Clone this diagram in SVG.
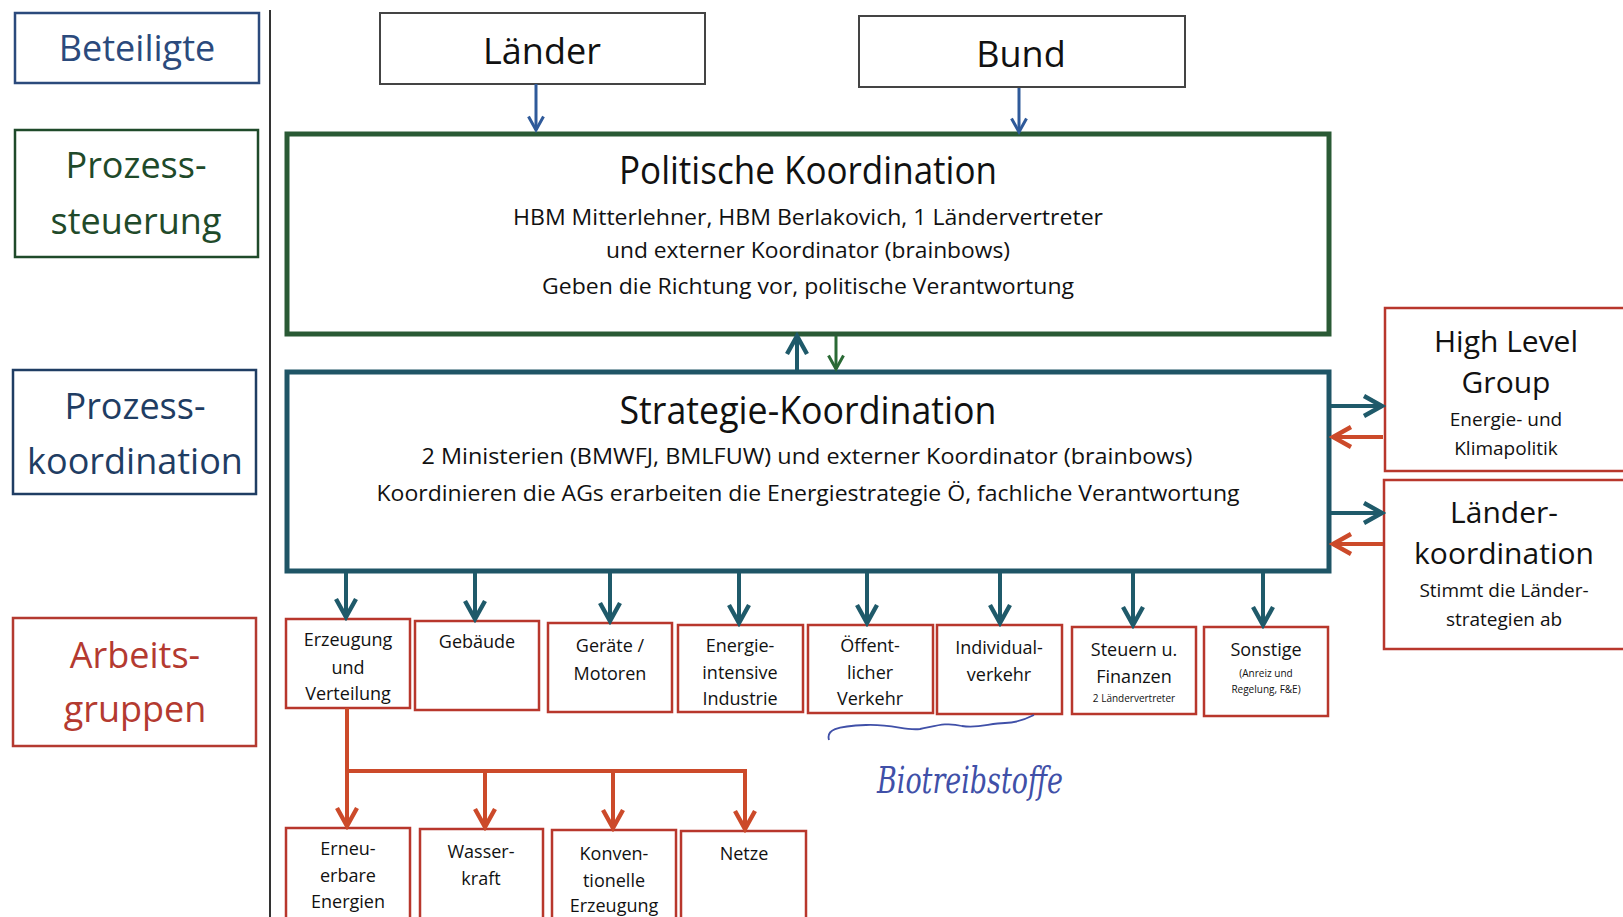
<svg xmlns="http://www.w3.org/2000/svg" width="1623" height="917" viewBox="0 0 1623 917">
<defs>
<style>
text{font-family:"Open Sans","Noto Sans","Liberation Sans",sans-serif;text-anchor:middle;fill:#111}
.lab{font-size:36px}
.blue{fill:#2b4a7c}.green{fill:#1f4a2a}.navy{fill:#1f3d63}.red{fill:#b43a30}
.box{fill:#fff}
.bx-blue{stroke:#2b4a7c;stroke-width:2.5}
.bx-green{stroke:#1f4a2a;stroke-width:2.5}
.bx-navy{stroke:#1f3d63;stroke-width:2.5}
.bx-red{stroke:#b43a30;stroke-width:2.5}
.top{stroke:#444;stroke-width:2;fill:#fff}
.big-green{fill:#fff;stroke:#2a5a35;stroke-width:5}
.big-teal{fill:#fff;stroke:#1f5566;stroke-width:5}
.wg{fill:#fff;stroke:#b8372c;stroke-width:2.5}
.hl{fill:#fff;stroke:#b8372c;stroke-width:2.5}
.t1{font-size:38px}
.t2{font-size:22px}
.t3{font-size:18px}
.ts{font-size:10px}
.hand{font-family:"DejaVu Serif",serif;font-style:italic;font-size:38px;fill:#4050a8}
.a-blue{stroke:#2f5a9a;stroke-width:3;fill:none}
.a-teal{stroke:#1f5a6a;stroke-width:4;fill:none}
.a-green{stroke:#2a6a35;stroke-width:3;fill:none}
.a-red{stroke:#cc4a2a;stroke-width:4;fill:none}
</style>
<marker id="mBlue" viewBox="0 0 12 12" refX="10" refY="6" markerWidth="18" markerHeight="18" markerUnits="userSpaceOnUse" orient="auto"><path d="M1,1 L10,6 L1,11" fill="none" stroke="#2f5a9a" stroke-width="2"/></marker>
<marker id="mTeal" viewBox="0 0 12 12" refX="10" refY="6" markerWidth="24" markerHeight="24" markerUnits="userSpaceOnUse" orient="auto"><path d="M1,1 L10,6 L1,11" fill="none" stroke="#1f5a6a" stroke-width="2.2"/></marker>
<marker id="mGreen" viewBox="0 0 12 12" refX="10" refY="6" markerWidth="18" markerHeight="18" markerUnits="userSpaceOnUse" orient="auto"><path d="M1,1 L10,6 L1,11" fill="none" stroke="#2a6a35" stroke-width="2"/></marker>
<marker id="mRed" viewBox="0 0 12 12" refX="10" refY="6" markerWidth="24" markerHeight="24" markerUnits="userSpaceOnUse" orient="auto"><path d="M1,1 L10,6 L1,11" fill="none" stroke="#cc4a2a" stroke-width="2.2"/></marker>
</defs>
<rect width="1623" height="917" fill="#fff"/>

<line x1="270" y1="10" x2="270" y2="917" stroke="#333" stroke-width="2"/>

<g id="beteiligte"><rect class="box bx-blue" x="15" y="13" width="244" height="70"/><text class="lab blue" x="137" y="61">Beteiligte</text></g>
<g id="prozesssteuerung"><rect class="box bx-green" x="15" y="130" width="243" height="127"/><text class="lab green" x="136" y="178">Prozess-</text><text class="lab green" x="136" y="234">steuerung</text></g>
<g id="prozesskoordination"><rect class="box bx-navy" x="13" y="370" width="243" height="124"/><text class="lab navy" x="135" y="419">Prozess-</text><text class="lab navy" x="135" y="474">koordination</text></g>
<g id="arbeitsgruppen"><rect class="box bx-red" x="13" y="618" width="243" height="128"/><text class="lab red" x="135" y="668">Arbeits-</text><text class="lab red" x="135" y="722">gruppen</text></g>

<g id="laender"><rect class="top" x="380" y="13" width="325" height="71"/><text class="lab" x="542" y="64">Länder</text></g>
<g id="bund"><rect class="top" x="859" y="16" width="326" height="71"/><text class="lab" x="1021" y="67">Bund</text></g>

<g id="politische-koordination"><rect class="big-green" x="287" y="134" width="1042" height="200"/>
<text class="t1" x="808" y="184" textLength="378" lengthAdjust="spacingAndGlyphs">Politische Koordination</text>
<text class="t2" x="808" y="225" textLength="590" lengthAdjust="spacingAndGlyphs">HBM Mitterlehner, HBM Berlakovich, 1 Ländervertreter</text>
<text class="t2" x="808" y="258" textLength="404" lengthAdjust="spacingAndGlyphs">und externer Koordinator (brainbows)</text>
<text class="t2" x="808" y="294" textLength="532" lengthAdjust="spacingAndGlyphs">Geben die Richtung vor, politische Verantwortung</text></g>

<g id="strategie-koordination"><rect class="big-teal" x="287" y="372" width="1042" height="199"/>
<text class="t1" x="808" y="424" textLength="377" lengthAdjust="spacingAndGlyphs">Strategie-Koordination</text>
<text class="t2" x="807" y="464" textLength="771" lengthAdjust="spacingAndGlyphs">2 Ministerien (BMWFJ, BMLFUW) und externer Koordinator (brainbows)</text>
<text class="t2" x="808" y="501" textLength="863" lengthAdjust="spacingAndGlyphs">Koordinieren die AGs erarbeiten die Energiestrategie Ö, fachliche Verantwortung</text></g>

<g id="high-level-group"><rect class="hl" x="1385" y="308" width="250" height="163"/>
<text x="1506" y="352" font-size="30">High Level</text><text x="1506" y="393" font-size="30">Group</text>
<text x="1506" y="426" font-size="19">Energie- und</text><text x="1506" y="455" font-size="19">Klimapolitik</text></g>
<g id="laenderkoordination"><rect class="hl" x="1384" y="480" width="251" height="169"/>
<text x="1504" y="523" font-size="30">Länder-</text><text x="1504" y="564" font-size="30">koordination</text>
<text x="1504" y="597" font-size="19">Stimmt die Länder-</text><text x="1504" y="626" font-size="19">strategien ab</text></g>

<g id="ag-erzeugung"><rect class="wg" x="286" y="619" width="124" height="89"/><text class="t3" x="348" y="646">Erzeugung</text><text class="t3" x="348" y="674">und</text><text class="t3" x="348" y="700">Verteilung</text></g>
<g id="ag-gebaeude"><rect class="wg" x="415" y="621" width="124" height="89"/><text class="t3" x="477" y="648">Gebäude</text></g>
<g id="ag-geraete"><rect class="wg" x="548" y="623" width="124" height="89"/><text class="t3" x="610" y="652">Geräte /</text><text class="t3" x="610" y="680">Motoren</text></g>
<g id="ag-industrie"><rect class="wg" x="678" y="625" width="125" height="87"/><text class="t3" x="740" y="652">Energie-</text><text class="t3" x="740" y="679">intensive</text><text class="t3" x="740" y="705">Industrie</text></g>
<g id="ag-oeffentlich"><rect class="wg" x="808" y="625" width="125" height="88"/><text class="t3" x="870" y="652">Öffent-</text><text class="t3" x="870" y="679">licher</text><text class="t3" x="870" y="705">Verkehr</text></g>
<g id="ag-individual"><rect class="wg" x="937" y="625" width="125" height="89"/><text class="t3" x="999" y="654">Individual-</text><text class="t3" x="999" y="681">verkehr</text></g>
<g id="ag-steuern"><rect class="wg" x="1072" y="627" width="124" height="87"/><text class="t3" x="1134" y="656">Steuern u.</text><text class="t3" x="1134" y="683">Finanzen</text><text class="ts" x="1134" y="702" font-size="8">2 Ländervertreter</text></g>
<g id="ag-sonstige"><rect class="wg" x="1204" y="627" width="124" height="89"/><text class="t3" x="1266" y="656">Sonstige</text><text class="ts" x="1266" y="677">(Anreiz und</text><text class="ts" x="1266" y="693">Regelung, F&amp;E)</text></g>

<g id="ag-erneuerbare"><rect class="wg" x="286" y="828" width="124" height="95"/><text class="t3" x="348" y="855">Erneu-</text><text class="t3" x="348" y="882">erbare</text><text class="t3" x="348" y="908">Energien</text></g>
<g id="ag-wasserkraft"><rect class="wg" x="420" y="829" width="123" height="95"/><text class="t3" x="481" y="858">Wasser-</text><text class="t3" x="481" y="885">kraft</text></g>
<g id="ag-konventionell"><rect class="wg" x="552" y="830" width="124" height="95"/><text class="t3" x="614" y="860">Konven-</text><text class="t3" x="614" y="887">tionelle</text><text class="t3" x="614" y="912">Erzeugung</text></g>
<g id="ag-netze"><rect class="wg" x="681" y="831" width="125" height="95"/><text class="t3" x="744" y="860">Netze</text></g>

<g id="connectors">
<line class="a-blue" x1="536" y1="84" x2="536" y2="130" marker-end="url(#mBlue)"/>
<line class="a-blue" x1="1019" y1="88" x2="1019" y2="132" marker-end="url(#mBlue)"/>
<line class="a-teal" x1="797" y1="370" x2="797" y2="336" marker-end="url(#mTeal)"/>
<line class="a-green" x1="836" y1="336" x2="836" y2="369" marker-end="url(#mGreen)"/>
<line class="a-teal" x1="1331" y1="406" x2="1382" y2="406" marker-end="url(#mTeal)"/>
<line class="a-red" x1="1383" y1="437" x2="1333" y2="437" marker-end="url(#mRed)"/>
<line class="a-teal" x1="1331" y1="513" x2="1382" y2="513" marker-end="url(#mTeal)"/>
<line class="a-red" x1="1383" y1="544" x2="1333" y2="544" marker-end="url(#mRed)"/>
<line class="a-teal" x1="346" y1="573" x2="346" y2="617" marker-end="url(#mTeal)"/>
<line class="a-teal" x1="475" y1="573" x2="475" y2="619" marker-end="url(#mTeal)"/>
<line class="a-teal" x1="610" y1="573" x2="610" y2="621" marker-end="url(#mTeal)"/>
<line class="a-teal" x1="739" y1="573" x2="739" y2="623" marker-end="url(#mTeal)"/>
<line class="a-teal" x1="867" y1="573" x2="867" y2="623" marker-end="url(#mTeal)"/>
<line class="a-teal" x1="1000" y1="573" x2="1000" y2="623" marker-end="url(#mTeal)"/>
<line class="a-teal" x1="1133" y1="573" x2="1133" y2="625" marker-end="url(#mTeal)"/>
<line class="a-teal" x1="1263" y1="573" x2="1263" y2="625" marker-end="url(#mTeal)"/>
<path class="a-red" d="M347,708 V771 H745"/>
<line class="a-red" x1="347" y1="769" x2="347" y2="826" marker-end="url(#mRed)"/>
<line class="a-red" x1="485" y1="771" x2="485" y2="827" marker-end="url(#mRed)"/>
<line class="a-red" x1="613" y1="771" x2="613" y2="828" marker-end="url(#mRed)"/>
<line class="a-red" x1="745" y1="769" x2="745" y2="829" marker-end="url(#mRed)"/>
</g>

<g id="annotation">
<path d="M829,740 C826,730 836,726 866,725 C894,724 905,731 920,729 C936,726 946,722 962,726 C978,729 990,723 1005,723 C1016,723 1024,720 1034,715" fill="none" stroke="#4050a8" stroke-width="1.8"/>
<text class="hand" x="970" y="793" textLength="186" lengthAdjust="spacingAndGlyphs">Biotreibstoffe</text>
</g>
</svg>
